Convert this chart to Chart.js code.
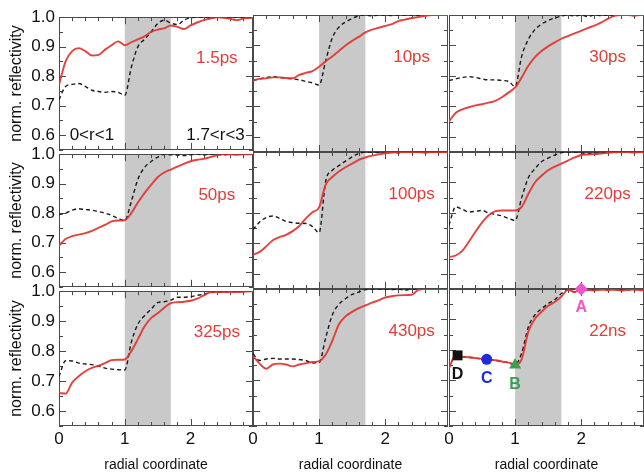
<!DOCTYPE html>
<html lang="en">
<head>
<meta charset="utf-8">
<title>norm. reflectivity vs radial coordinate</title>
<script src="https://cdn.jsdelivr.net/npm/chart.js@4.4.0/dist/chart.umd.min.js"></script>
<style>
  html, body { margin: 0; padding: 0; background: #fff; overflow: hidden; }
  #grid { position: relative; width: 644px; height: 476px; overflow: hidden; }
  .panel { position: absolute; }
</style>
</head>
<body>
<div id="grid"></div>
<script>
// radial coordinate samples, shared by every panel
const radius = [0, 0.1, 0.2, 0.3, 0.4, 0.5, 0.6, 0.7, 0.8, 0.9,
                1.0, 1.1, 1.2, 1.3, 1.4, 1.5, 1.6, 1.7, 1.8, 1.9,
                2.0, 2.1, 2.2, 2.3, 2.4, 2.5, 2.6, 2.7, 2.8, 2.9, 2.95];

const delays = ['1.5ps', '10ps', '30ps', '50ps', '100ps', '220ps', '325ps', '430ps', '22ns'];

// red solid curves
const solid1p5ps = [0.77, 0.85, 0.885, 0.895, 0.885, 0.87, 0.872, 0.89, 0.905, 0.918, 0.905, 0.915, 0.925, 0.935, 0.95, 0.958, 0.962, 0.972, 0.967, 0.96, 0.972, 0.982, 0.99, 0.995, 1.0, 0.998, 0.995, 0.99, 0.995, 0.998, 1.0];
const solid10ps  = [0.785, 0.79, 0.792, 0.795, 0.795, 0.793, 0.792, 0.803, 0.81, 0.816, 0.83, 0.848, 0.864, 0.882, 0.9, 0.915, 0.928, 0.943, 0.952, 0.958, 0.964, 0.97, 0.98, 0.985, 0.99, 0.993, 0.997, 1.0, 1.0, 1.0, 1.0];
const solid30ps  = [0.65, 0.678, 0.69, 0.697, 0.703, 0.707, 0.712, 0.718, 0.73, 0.745, 0.762, 0.795, 0.833, 0.862, 0.882, 0.897, 0.91, 0.922, 0.931, 0.94, 0.948, 0.957, 0.965, 0.975, 0.987, 0.997, 1.0, 1.0, 0.998, 1.0, 1.0];
const solid50ps  = [0.69, 0.712, 0.722, 0.727, 0.732, 0.74, 0.75, 0.76, 0.772, 0.775, 0.776, 0.8, 0.836, 0.868, 0.896, 0.922, 0.938, 0.948, 0.958, 0.967, 0.976, 0.981, 0.984, 0.99, 0.996, 1.0, 1.0, 0.998, 1.0, 1.0, 1.0];
const solid100ps = [0.662, 0.672, 0.69, 0.71, 0.72, 0.728, 0.74, 0.757, 0.782, 0.802, 0.818, 0.893, 0.918, 0.936, 0.95, 0.962, 0.974, 0.982, 0.988, 0.992, 0.996, 0.998, 1.0, 1.0, 1.0, 1.0, 0.998, 1.0, 1.0, 1.0, 1.0];
const solid220ps = [0.655, 0.66, 0.675, 0.705, 0.738, 0.768, 0.792, 0.806, 0.808, 0.808, 0.808, 0.82, 0.862, 0.9, 0.922, 0.94, 0.952, 0.962, 0.972, 0.982, 0.99, 0.992, 0.993, 0.995, 0.997, 1.0, 1.0, 1.0, 0.998, 1.0, 1.0];
const solid325ps = [0.66, 0.658, 0.695, 0.716, 0.733, 0.744, 0.751, 0.76, 0.77, 0.771, 0.772, 0.8, 0.84, 0.882, 0.91, 0.926, 0.945, 0.96, 0.963, 0.965, 0.968, 0.975, 0.986, 0.996, 0.997, 0.997, 0.998, 0.997, 0.998, 1.0, 1.0];
const solid430ps = [0.78, 0.755, 0.738, 0.752, 0.755, 0.752, 0.746, 0.752, 0.756, 0.76, 0.763, 0.785, 0.83, 0.884, 0.91, 0.925, 0.937, 0.946, 0.955, 0.963, 0.972, 0.976, 0.979, 0.98, 0.981, 0.997, 1.0, 1.0, 1.0, 1.0, 1.0];
const solid22ns  = [0.74, 0.782, 0.778, 0.776, 0.773, 0.77, 0.768, 0.766, 0.762, 0.758, 0.752, 0.77, 0.86, 0.902, 0.925, 0.945, 0.957, 0.975, 0.997, 0.99, 1.0, 0.997, 0.995, 0.998, 0.996, 0.998, 0.995, 0.997, 0.998, 0.996, 0.997];

// black dashed curves
const dashed1p5ps = [0.72, 0.765, 0.772, 0.775, 0.765, 0.752, 0.748, 0.745, 0.748, 0.745, 0.735, 0.83, 0.9, 0.925, 0.95, 0.978, 0.99, 0.98, 0.975, 0.99, 0.998, 1.0, 1.0, 0.998, 1.0, 1.0, 0.997, 1.0, 1.0, 0.998, 1.0];
const dashed10ps  = [0.785, 0.79, 0.795, 0.797, 0.795, 0.792, 0.79, 0.787, 0.782, 0.777, 0.77, 0.85, 0.925, 0.96, 0.977, 0.988, 0.998, 1.0, 0.997, 1.0, 1.0, 0.998, 1.0, 1.0, 1.0, 0.998, 1.0, 1.0, 1.0, 1.0, 1.0];
const dashed30ps  = [0.785, 0.79, 0.795, 0.797, 0.795, 0.79, 0.787, 0.787, 0.785, 0.782, 0.765, 0.865, 0.92, 0.952, 0.97, 0.982, 0.99, 0.996, 1.0, 0.997, 1.0, 0.995, 1.0, 0.998, 1.0, 0.997, 1.0, 1.0, 0.998, 1.0, 1.0];
const dashed50ps  = [0.795, 0.8, 0.81, 0.815, 0.812, 0.81, 0.805, 0.8, 0.792, 0.782, 0.775, 0.84, 0.915, 0.955, 0.975, 0.99, 1.0, 0.998, 0.997, 0.995, 0.998, 1.0, 0.997, 1.0, 1.0, 0.998, 1.0, 1.0, 1.0, 1.0, 1.0];
const dashed100ps = [0.745, 0.77, 0.785, 0.79, 0.782, 0.772, 0.768, 0.766, 0.765, 0.755, 0.735, 0.905, 0.94, 0.955, 0.97, 0.984, 0.995, 1.0, 1.0, 0.998, 1.0, 1.0, 0.997, 1.0, 1.0, 1.0, 0.998, 1.0, 1.0, 1.0, 1.0];
const dashed220ps = [0.76, 0.82, 0.812, 0.803, 0.805, 0.808, 0.8, 0.795, 0.79, 0.782, 0.775, 0.85, 0.915, 0.945, 0.968, 0.98, 0.99, 0.998, 1.0, 1.0, 0.997, 0.995, 0.996, 0.998, 1.0, 0.998, 1.0, 1.0, 1.0, 1.0, 1.0];
const dashed325ps = [0.715, 0.768, 0.767, 0.76, 0.757, 0.755, 0.75, 0.743, 0.74, 0.738, 0.737, 0.83, 0.89, 0.918, 0.94, 0.962, 0.965, 0.97, 0.98, 0.98, 0.982, 0.986, 0.99, 0.995, 0.998, 0.996, 0.998, 1.0, 1.0, 1.0, 1.0];
const dashed430ps = [0.787, 0.765, 0.77, 0.772, 0.77, 0.77, 0.77, 0.768, 0.765, 0.757, 0.758, 0.84, 0.915, 0.95, 0.968, 0.982, 0.99, 0.998, 1.0, 1.0, 1.0, 0.998, 1.0, 0.996, 1.0, 1.0, 1.0, 1.0, 1.0, 1.0, 1.0];
const dashed22ns  = [0.74, 0.782, 0.778, 0.776, 0.773, 0.77, 0.768, 0.766, 0.762, 0.758, 0.752, 0.79, 0.875, 0.915, 0.935, 0.952, 0.965, 0.985, 0.998, 0.99, 1.0, 0.997, 0.996, 0.998, 0.997, 0.998, 0.996, 0.997, 0.998, 0.997, 0.998];

const solidSeries  = [solid1p5ps, solid10ps, solid30ps, solid50ps, solid100ps, solid220ps, solid325ps, solid430ps, solid22ns];
const dashedSeries = [dashed1p5ps, dashed10ps, dashed30ps, dashed50ps, dashed100ps, dashed220ps, dashed325ps, dashed430ps, dashed22ns];

// marked points in the 22ns panel
const markNames  = ['A', 'B', 'C', 'D'];
const markRadius = [2.0, 1.0, 0.57, 0.13];
const markValue  = [1.0, 0.75, 0.769, 0.782];
const markColors = ['#f055c8', '#3f9d50', '#1d2ce0', '#111111'];
const markShapes = ['rectRot', 'triangle', 'circle', 'rect'];

const xTicks = [0, 1, 2];
const yTicks = [0.6, 0.7, 0.8, 0.9, 1.0];
const bandFrom = 1.0, bandTo = 1.7;

const FONT = '"Liberation Sans", Arial, Helvetica, sans-serif';
const RED = 'rgba(228, 50, 45, 0.92)';
const LABEL_RED = 'rgb(228, 60, 55)';
const FRAME = '#4a4a4a';
Chart.defaults.font.family = FONT;
Chart.defaults.color = '#111';

const decor = {
  id: 'panelDecor',
  beforeDatasetsDraw(chart, args, opts) {
    const { ctx, chartArea: a, scales: { x, y } } = chart;
    const x0 = x.getPixelForValue(bandFrom), x1 = x.getPixelForValue(bandTo);
    ctx.save();
    ctx.fillStyle = '#c9c9c9';
    ctx.fillRect(x0, a.top, x1 - x0, a.bottom - a.top);

    ctx.strokeStyle = FRAME;
    ctx.lineWidth = 1;
    ctx.strokeRect(Math.round(a.left) + 0.5, Math.round(a.top) + 0.5,
                   Math.round(a.right - a.left) - 1, Math.round(a.bottom - a.top) - 1);
    ctx.beginPath();
    for (let k = 0; k <= 14; k++) {
      const px = Math.round(x.getPixelForValue(k * 0.2)) + 0.5;
      const len = k % 5 === 0 ? 7 : 4;
      ctx.moveTo(px, a.top); ctx.lineTo(px, a.top + len);
      ctx.moveTo(px, a.bottom); ctx.lineTo(px, a.bottom - len);
    }
    for (let k = 11; k <= 20; k++) {
      const py = Math.round(y.getPixelForValue(k * 0.05)) + 0.5;
      const len = k % 2 === 0 ? 7 : 4;
      ctx.moveTo(a.left, py); ctx.lineTo(a.left + len, py);
      ctx.moveTo(a.right, py); ctx.lineTo(a.right - len, py);
    }
    ctx.stroke();
    ctx.restore();
  },
  afterDatasetsDraw(chart, args, opts) {
    const { ctx, scales: { x, y } } = chart;
    ctx.save();
    ctx.textAlign = 'center';
    ctx.textBaseline = 'middle';
    ctx.font = '17px ' + FONT;
    ctx.fillStyle = LABEL_RED;
    ctx.fillText(opts.label, x.getPixelForValue(2.4), y.getPixelForValue(0.862));
    if (opts.notes) {
      ctx.fillStyle = '#111';
      ctx.fillText('0<r<1', x.getPixelForValue(0.5), y.getPixelForValue(0.6));
      ctx.fillText('1.7<r<3', x.getPixelForValue(2.38), y.getPixelForValue(0.6));
    }
    if (opts.markers) {
      ctx.font = 'bold 16px ' + FONT;
      markNames.forEach((n, k) => {
        ctx.fillStyle = markColors[k];
        ctx.fillText(n, x.getPixelForValue(markRadius[k]), y.getPixelForValue(markValue[k]) + 19);
      });
    }
    ctx.restore();
  }
};

const colLeft = [59, 253, 449], colWidth = [194, 195, 195];
const rowTop = [15, 152, 289], rowHeight = 137;
const PAD = 12;
const grid = document.getElementById('grid');

delays.forEach((label, i) => {
  const row = Math.floor(i / 3), col = i % 3;
  const leftAxis = col === 0, bottomAxis = row === 2;
  const padL = leftAxis ? 59 : PAD;
  const padB = bottomAxis ? 476 - (rowTop[row] + rowHeight) : PAD;

  const div = document.createElement('div');
  div.className = 'panel';
  div.style.left = (colLeft[col] - padL) + 'px';
  div.style.top = (rowTop[row] - PAD) + 'px';
  div.style.width = (colWidth[col] + padL + PAD) + 'px';
  div.style.height = (rowHeight + PAD + padB) + 'px';
  const canvas = document.createElement('canvas');
  div.appendChild(canvas);
  grid.appendChild(div);

  const datasets = [
    {
      data: radius.map((r, k) => ({ x: r, y: solidSeries[i][k] })),
      borderColor: RED, borderWidth: 1.9, pointRadius: 0,
      cubicInterpolationMode: 'monotone', order: 2
    },
    {
      data: radius.map((r, k) => ({ x: r, y: dashedSeries[i][k] })),
      borderColor: '#1a1a1a', borderWidth: 1.4, borderDash: [4, 3], pointRadius: 0,
      cubicInterpolationMode: 'monotone', order: 3
    }
  ];
  if (i === 8) {
    datasets.push({
      data: markRadius.map((r, k) => ({ x: r, y: markValue[k] })),
      showLine: false, pointStyle: markShapes,
      pointRadius: [6.5, 7, 5.5, 7], backgroundColor: markColors, borderColor: markColors,
      borderWidth: 0, order: 1, clip: false
    });
  }

  new Chart(canvas, {
    type: 'line',
    data: { datasets },
    options: {
      responsive: true,
      maintainAspectRatio: false,
      animation: false,
      events: [],
      layout: { padding: { left: leftAxis ? 0 : PAD, right: PAD, top: PAD, bottom: bottomAxis ? 0 : PAD } },
      plugins: {
        legend: { display: false },
        tooltip: { enabled: false },
        panelDecor: { label, notes: i === 0, markers: i === 8 }
      },
      scales: {
        x: {
          type: 'linear', min: 0, max: 2.95, display: bottomAxis,
          grid: { display: false, drawTicks: false },
          border: { display: false },
          afterBuildTicks: s => { s.ticks = xTicks.map(v => ({ value: v })); },
          afterFit: s => { s.height = bottomAxis ? padB : 0; },
          ticks: { font: { size: 17 }, color: '#111', padding: 3, maxRotation: 0, callback: v => String(v) },
          title: { display: true, text: 'radial coordinate', font: { size: 14 }, color: '#111', padding: { top: 0, bottom: 2 } }
        },
        y: {
          type: 'linear', min: 0.55, max: 1.0, display: leftAxis,
          grid: { display: false, drawTicks: false },
          border: { display: false },
          afterBuildTicks: s => { s.ticks = yTicks.map(v => ({ value: v })); },
          afterFit: s => { s.width = leftAxis ? 59 : 0; },
          ticks: { font: { size: 17 }, color: '#111', padding: 4, callback: v => Number(v).toFixed(1) },
          title: { display: true, text: 'norm. reflectivity', font: { size: 16 }, color: '#111', padding: { top: 7, bottom: 0 } }
        }
      }
    },
    plugins: [decor]
  });
});
</script>
</body>
</html>
